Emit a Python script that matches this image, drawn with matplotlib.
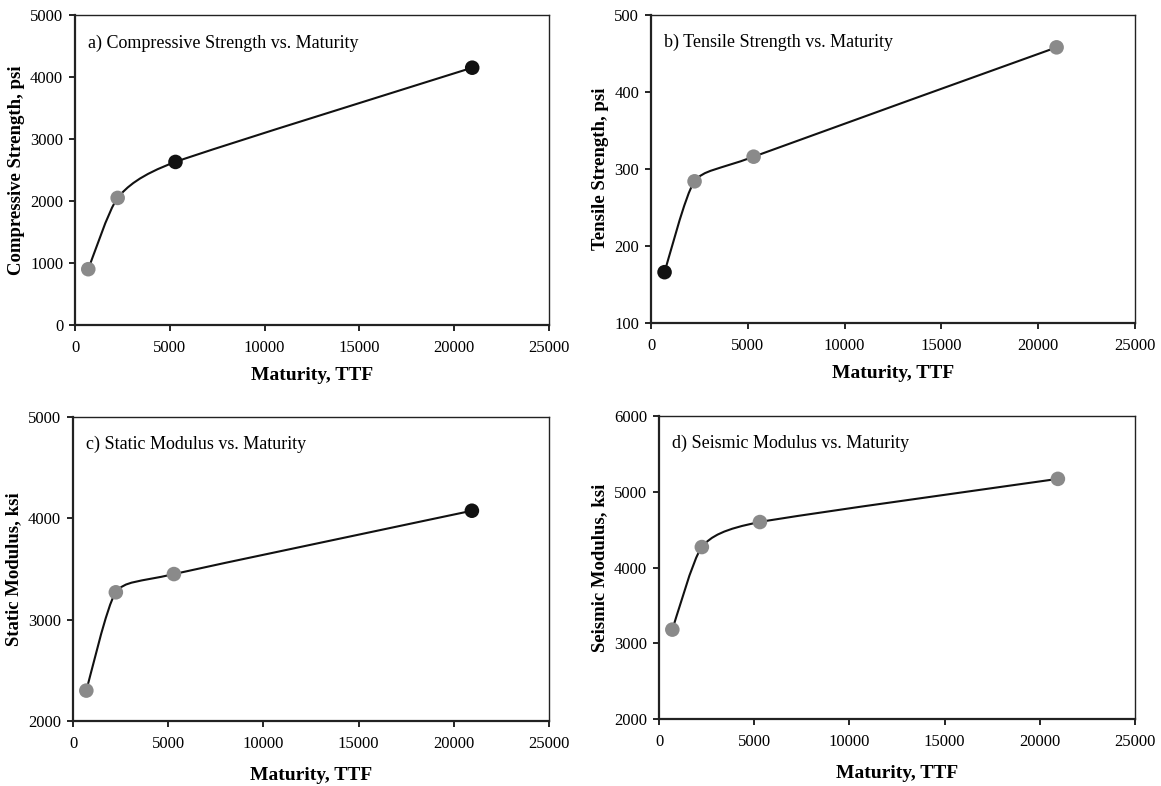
import matplotlib
matplotlib.use("Agg")
import matplotlib.pyplot as plt
from matplotlib.path import Path
from matplotlib.patches import PathPatch

plt.rcParams['font.family'] = ['Liberation Serif', 'DejaVu Serif']

# Data
maturity = [700, 2250, 5300, 20950]
compressive = [900, 2050, 2630, 4150]
tensile = [166, 284, 316, 458]
static_mod = [2300, 3270, 3450, 4075]
seismic_mod = [3180, 4270, 4600, 5170]

panel_titles = ["a) Compressive Strength vs. Maturity",
                "b) Tensile Strength vs. Maturity",
                "c) Static Modulus vs. Maturity",
                "d) Seismic Modulus vs. Maturity"]
y_labels = ["Compressive Strength, psi", "Tensile Strength, psi",
            "Static Modulus, ksi", "Seismic Modulus, ksi"]
y_limits = [(0, 5000), (100, 500), (2000, 5000), (2000, 6000)]
y_steps = [1000, 100, 1000, 1000]
x_ticks = [0, 5000, 10000, 15000, 20000, 25000]
series = [compressive, tensile, static_mod, seismic_mod]

# marker shades as they come out in the scan
marker_colors = [["#8a8a8a", "#8a8a8a", "#111111", "#111111"],
                 ["#111111", "#8a8a8a", "#8a8a8a", "#8a8a8a"],
                 ["#8a8a8a", "#8a8a8a", "#8a8a8a", "#111111"],
                 ["#8a8a8a", "#8a8a8a", "#8a8a8a", "#8a8a8a"]]

# axes boxes in pixels (left, top, right, bottom) on a 1161x786 canvas
boxes = [(75, 15, 549, 325), (651, 15, 1135, 323),
         (73, 417, 549, 721), (659, 416, 1135, 719)]
xlabel_pads = [8, 8, 11, 11]
W, H = 1161, 786


def smooth_path(xs, ys, k=0.1):
    # smoothed line through the points as cubic Beziers
    pts = list(zip(xs, ys))
    verts = [pts[0]]
    codes = [Path.MOVETO]
    n = len(pts)
    for i in range(n - 1):
        p0 = pts[max(i - 1, 0)]
        p1 = pts[i]
        p2 = pts[i + 1]
        p3 = pts[min(i + 2, n - 1)]
        c1 = (p1[0] + (p2[0] - p0[0]) * k, p1[1] + (p2[1] - p0[1]) * k)
        c2 = (p2[0] - (p3[0] - p1[0]) * k, p2[1] - (p3[1] - p1[1]) * k)
        verts += [c1, c2, p2]
        codes += [Path.CURVE4] * 3
    return Path(verts, codes)


fig = plt.figure(figsize=(W / 100, H / 100), dpi=100)

for i in range(4):
    l, t, r, b = boxes[i]
    ax = fig.add_axes([l / W, 1 - b / H, (r - l) / W, (b - t) / H])
    ys = series[i]
    ax.add_patch(PathPatch(smooth_path(maturity, ys), facecolor='none',
                           edgecolor='#111111', lw=1.5, zorder=2))
    ax.scatter(maturity, ys, s=110, c=marker_colors[i], zorder=3,
               edgecolors='none')

    ax.set_xlim(0, 25000)
    ax.set_ylim(*y_limits[i])
    ax.set_xticks(x_ticks)
    lo, hi = y_limits[i]
    ax.set_yticks(list(range(lo, hi + 1, y_steps[i])))
    ax.tick_params(direction='out', length=4.5, width=1.2, labelsize=12,
                   colors='black')
    ax.tick_params(axis='x', pad=6)
    ax.tick_params(axis='y', pad=4)
    for s in ax.spines.values():
        s.set_linewidth(1.0)
        s.set_color('#222222')
    ax.spines['left'].set_linewidth(1.6)
    ax.spines['bottom'].set_linewidth(1.6)

    ax.set_xlabel("Maturity, TTF", fontweight='bold', fontsize=14,
                  labelpad=xlabel_pads[i])
    ax.set_ylabel(y_labels[i], fontweight='bold', fontsize=13.5, labelpad=4)
    ax.text(0.027, 0.91, panel_titles[i], transform=ax.transAxes,
            fontsize=13, va='center', ha='left')

fig.savefig("out.png", dpi=100, facecolor='white')
